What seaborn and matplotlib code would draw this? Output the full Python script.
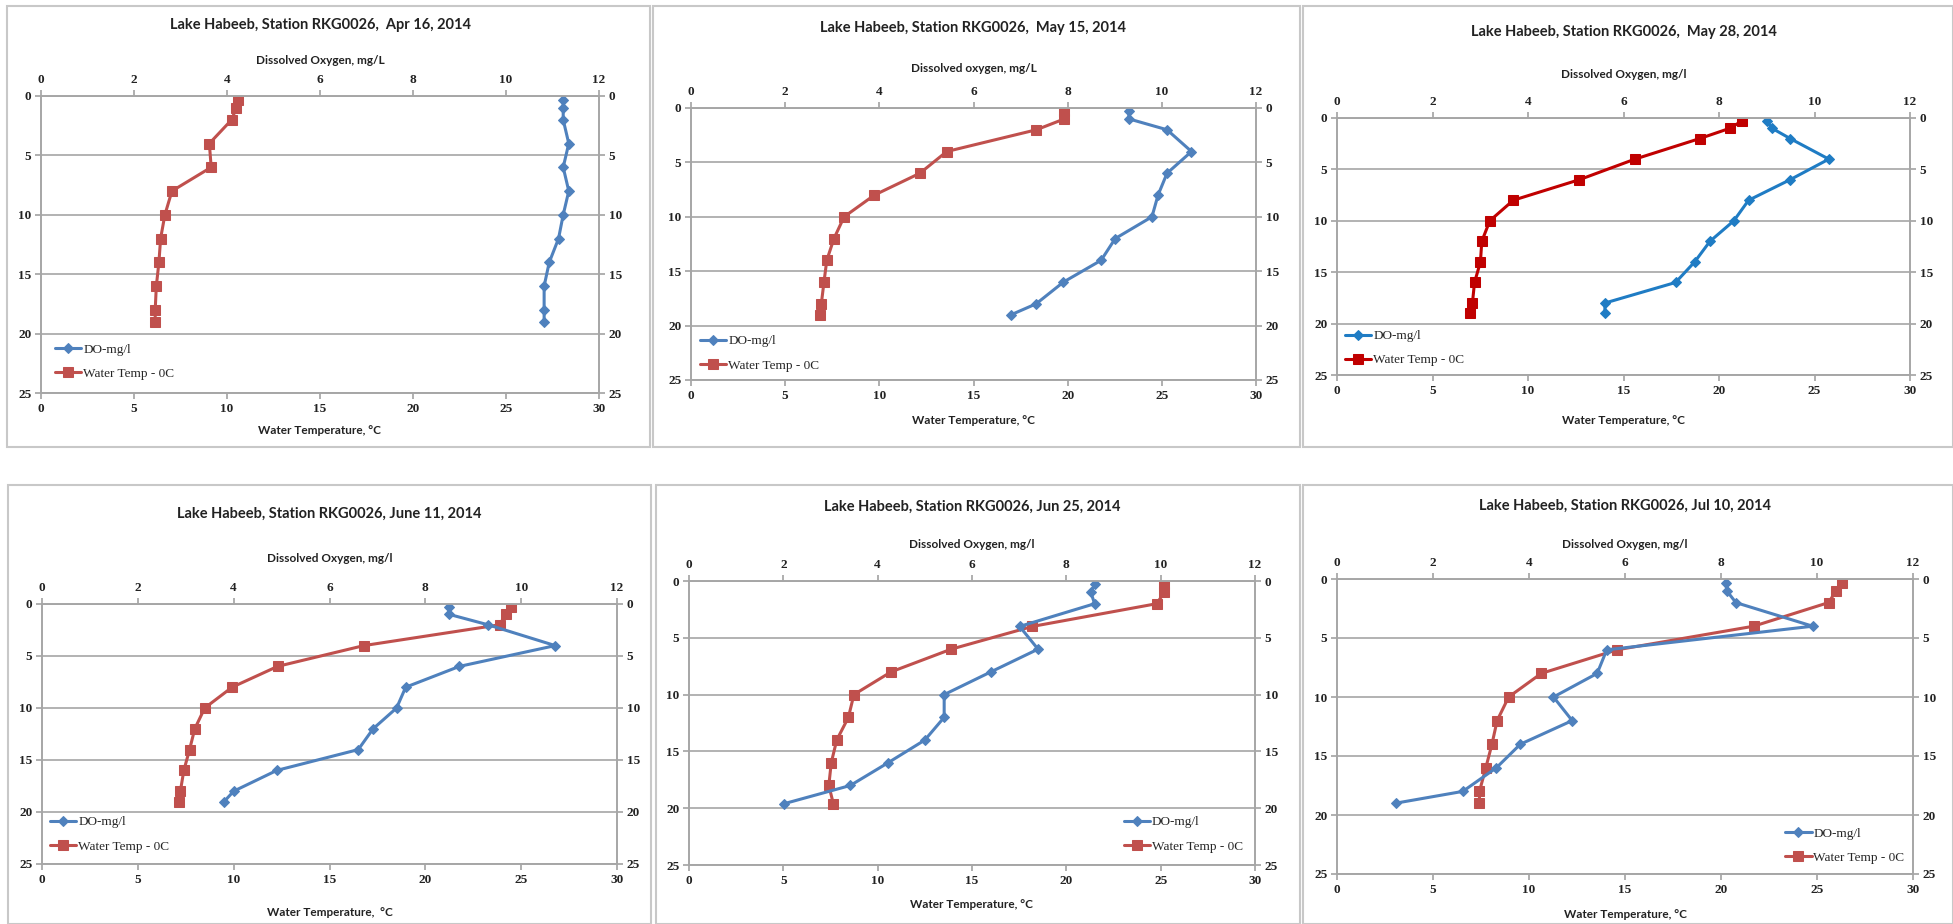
import matplotlib
matplotlib.use('Agg')
import matplotlib.pyplot as plt
import seaborn as sns
from matplotlib.patches import Rectangle

sns.set_theme(style='white')
plt.rcParams['font.family'] = ['Lato', 'DejaVu Sans']

# ---------------- data ----------------
titles = ["Lake Habeeb, Station RKG0026,  Apr 16, 2014",
          "Lake Habeeb, Station RKG0026,  May 15, 2014",
          "Lake Habeeb, Station RKG0026,  May 28, 2014",
          "Lake Habeeb, Station RKG0026, June 11, 2014",
          "Lake Habeeb, Station RKG0026, Jun 25, 2014",
          "Lake Habeeb, Station RKG0026, Jul 10, 2014"]
do_axis_labels = ["Dissolved Oxygen, mg/L", "Dissolved oxygen, mg/L", "Dissolved Oxygen, mg/l",
                  "Dissolved Oxygen, mg/l", "Dissolved Oxygen, mg/l", "Dissolved Oxygen, mg/l"]
temp_axis_labels = ["Water Temperature, °C", "Water Temperature, °C", "Water Temperature, °C",
                    "Water Temperature,  °C", "Water Temperature, °C", "Water Temperature, °C"]
series_names = ["DO-mg/l", "Water Temp - 0C"]

depth_apr16 = [0.3, 1, 2, 4, 6, 8, 10, 12, 14, 16, 18, 19]
temp_apr16 = [10.6, 10.5, 10.25, 9.05, 9.15, 7.04, 6.66, 6.43, 6.34, 6.2, 6.14, 6.14]
do_apr16 = [11.23, 11.23, 11.23, 11.35, 11.23, 11.35, 11.23, 11.13, 10.93, 10.82, 10.82, 10.82]

depth_may15 = [0.3, 1, 2, 4, 6, 8, 10, 12, 14, 16, 18, 19]
temp_may15 = [19.83, 19.83, 18.34, 13.58, 12.15, 9.74, 8.13, 7.59, 7.21, 7.06, 6.92, 6.83]
do_may15 = [9.30, 9.30, 10.11, 10.63, 10.11, 9.92, 9.79, 9.01, 8.71, 7.91, 7.33, 6.80]

depth_may28 = [0.3, 1, 2, 4, 6, 8, 10, 12, 14, 16, 18, 19]
temp_may28 = [21.19, 20.57, 18.99, 15.6, 12.69, 9.23, 8.0, 7.58, 7.51, 7.2, 7.09, 6.96]
do_may28 = [9.0, 9.11, 9.49, 10.3, 9.49, 8.62, 8.31, 7.81, 7.49, 7.09, 5.61, 5.61]

depth_jun11 = [0.3, 1, 2, 4, 6, 8, 10, 12, 14, 16, 18, 19]
temp_jun11 = [24.47, 24.2, 23.87, 16.79, 12.29, 9.92, 8.49, 7.97, 7.7, 7.4, 7.22, 7.13]
do_jun11 = [8.5, 8.5, 9.31, 10.71, 8.71, 7.59, 7.4, 6.91, 6.6, 4.9, 4.0, 3.8]

depth_jun25 = [0.3, 1, 2, 4, 6, 8, 10, 12, 14, 16, 18, 19.6]
temp_jun25 = [25.2, 25.2, 24.78, 18.2, 13.9, 10.71, 8.74, 8.45, 7.83, 7.54, 7.41, 7.65]
do_jun25 = [8.6, 8.52, 8.6, 7.01, 7.40, 6.40, 5.41, 5.41, 5.0, 4.22, 3.42, 2.02]

depth_jul10 = [0.3, 1, 2, 4, 6, 8, 10, 12, 14, 16, 18, 19]
temp_jul10 = [26.3, 26.0, 25.6, 21.7, 14.59, 10.64, 8.94, 8.34, 8.07, 7.75, 7.42, 7.42]
do_jul10 = [8.1, 8.12, 8.31, 9.91, 5.62, 5.42, 4.51, 4.9, 3.82, 3.32, 2.62, 1.22]

depths = [depth_apr16, depth_may15, depth_may28, depth_jun11, depth_jun25, depth_jul10]
temps = [temp_apr16, temp_may15, temp_may28, temp_jun11, temp_jun25, temp_jul10]
dos = [do_apr16, do_may15, do_may28, do_jun11, do_jun25, do_jul10]

depth_ticks = [0, 5, 10, 15, 20, 25]
temp_ticks = [0, 5, 10, 15, 20, 25, 30]
do_ticks = [0, 2, 4, 6, 8, 10, 12]

# ---------------- layout (pixels) ----------------
W, H = 1953, 924
boxes = [(41, 599, 96, 393), (691, 1256, 108, 380), (1337, 1910, 118, 375),
         (42, 617, 604, 864), (689, 1255, 581, 865), (1337, 1913, 579, 874)]
frames = [(7, 650, 6, 447), (653, 1300, 6, 447), (1303, 1953, 6, 447),
          (8, 651, 485, 924), (656, 1300, 485, 924), (1303, 1953, 485, 924)]
title_y = [25, 28, 32, 514, 507, 506]
do_label_y = [61, 69, 75, 558, 545, 544]
temp_label_y = [430, 421, 420, 912, 904, 914]
legend_pos = [(0.025, 0.106), (0.016, 0.098), (0.014, 0.104), (0.014, 0.114), (0.768, 0.108), (0.778, 0.096)]
reds = ['#c0504d', '#c0504d', '#c00000', '#c0504d', '#c0504d', '#c0504d']
blues = ['#4f81bd', '#4f81bd', '#1f7cc4', '#4f81bd', '#4f81bd', '#4f81bd']
grid_c = '#a6a6a6'
txt_c = '#222222'
serif = ['Liberation Serif', 'DejaVu Serif']

fig = plt.figure(figsize=(W / 100, H / 100), dpi=100)
fig.patch.set_facecolor('white')

for i in range(6):
    fx0, fx1, fy0, fy1 = frames[i]
    fig.add_artist(Rectangle((fx0 / W, 1 - fy1 / H), (fx1 - fx0) / W, (fy1 - fy0) / H,
                             transform=fig.transFigure, fill=False, ec='#c8c8c8', lw=1.5))
    x0, x1, yt, yb = boxes[i]
    ax = fig.add_axes([x0 / W, 1 - yb / H, (x1 - x0) / W, (yb - yt) / H])
    ax2 = ax.twiny()

    sns.lineplot(x=temps[i], y=depths[i], ax=ax, color=reds[i], marker='s', markersize=7,
                 markeredgecolor=reds[i], lw=2.2, sort=False, estimator=None)
    sns.lineplot(x=dos[i], y=depths[i], ax=ax2, color=blues[i], marker='D', markersize=5,
                 markeredgecolor=blues[i], lw=2.2, sort=False, estimator=None)

    ax.set_xlim(0, 30)
    ax2.set_xlim(0, 12)
    ax.set_ylim(25, 0)
    ax.set_xlabel('')
    ax.set_ylabel('')
    ax2.set_xlabel('')
    ax.yaxis.grid(True, color=grid_c, lw=1.2)
    ax.xaxis.grid(False)
    ax2.grid(False)
    for a in (ax, ax2):
        for s in a.spines.values():
            s.set_color(grid_c)
            s.set_linewidth(1.2)
        a.set_facecolor('none')
    ax.tick_params(axis='y', left=True, right=True, labelleft=True, labelright=True,
                   direction='out', length=4, color=grid_c, labelcolor=txt_c, pad=3,
                   labelsize=9.5, labelfontfamily=serif)
    ax.tick_params(axis='x', bottom=True, top=False, direction='out', length=4, color=grid_c,
                   labelcolor=txt_c, pad=3, labelsize=9.5, labelfontfamily=serif)
    ax2.tick_params(axis='x', top=True, bottom=False, direction='out', length=4, color=grid_c,
                    labelcolor=txt_c, pad=3, labelsize=9.5, labelfontfamily=serif)
    ax.set_yticks(depth_ticks, labels=[str(v) for v in depth_ticks], fontweight='bold')
    ax.set_xticks(temp_ticks, labels=[str(v) for v in temp_ticks], fontweight='bold')
    ax2.set_xticks(do_ticks, labels=[str(v) for v in do_ticks], fontweight='bold')
    for t in ax.yaxis.get_major_ticks():
        t.label2.set_fontweight('bold')

    cx = (x0 + x1) / 2 / W
    fig.text(cx, 1 - title_y[i] / H, titles[i], ha='center', va='center', fontsize=10.5,
             fontweight='bold', color=txt_c)
    fig.text(cx, 1 - do_label_y[i] / H, do_axis_labels[i], ha='center', va='center',
             fontsize=8.5, fontweight='bold', color=txt_c)
    fig.text(cx, 1 - temp_label_y[i] / H, temp_axis_labels[i], ha='center', va='center',
             fontsize=8.5, fontweight='bold', color=txt_c)

    h_do = ax2.get_lines()[0]
    h_t = ax.get_lines()[0]
    ax2.legend([h_do, h_t], series_names, loc='center left', bbox_to_anchor=legend_pos[i],
               bbox_transform=ax.transAxes, frameon=False, handlelength=2.0,
               handletextpad=0.15, labelspacing=0.9, borderaxespad=0, borderpad=0,
               prop=dict(family=serif, size=9.5))

fig.savefig('out.png', dpi=100, facecolor='white')
